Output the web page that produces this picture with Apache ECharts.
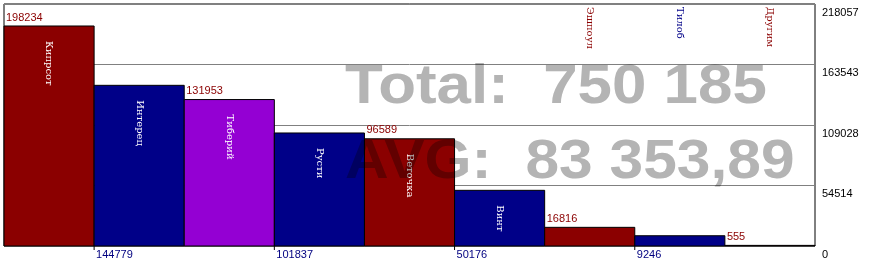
<!DOCTYPE html>
<html><head><meta charset="utf-8">
<script src="https://cdn.jsdelivr.net/npm/echarts@6/dist/echarts.min.js"></script>
<style>html,body{margin:0;padding:0;background:#fff}#c{width:876px;height:260px}
#c canvas[data-zr-dom-id="zr_1"]{mix-blend-mode:multiply}</style>
</head><body><div id="c"></div>
<script>
const categories = ['Кипрсот','Интерец','Тиберий','Русти','Веточка','Винт','Эшпоул','Тилоб','Другим'];
const values = [198234,144779,131953,101837,96589,50176,16816,9246,555];
const yTickLabels = ['0','54514','109028','163543','218057'];
const yMax = 218057;

const barColors = ['#8B0000','#000088','#9400D3','#000088','#8B0000','#000088','#8B0000','#000088','#8B0000'];
const total = values.reduce((a,b)=>a+b,0);
const avg = total / values.length;
function fmt(n, dec){
  const s = n.toFixed(dec).split('.');
  const int = s[0].replace(/\B(?=(\d{3})+(?!\d))/g,' ');
  return dec ? int + ',' + s[1] : int;
}

const chart = echarts.init(document.getElementById('c'), null, {renderer:'canvas'});
const serif = 'DejaVu Serif';
chart.setOption({
  animation:false,
  grid:{left:4, right:61, top:4, bottom:13, show:true, borderColor:'#000', borderWidth:1, backgroundColor:'transparent'},
  xAxis:{type:'category', data:categories, boundaryGap:true,
    axisLine:{show:false}, axisTick:{show:false}, axisLabel:{show:false}, splitLine:{show:false}},
  yAxis:{type:'value', position:'right', min:0, max:yMax, interval:yMax/4,
    axisLine:{show:false}, axisTick:{show:false},
    splitLine:{show:true, lineStyle:{color:'#808080', width:1}},
    axisLabel:{margin:7, color:'#000', fontFamily:'Arial', fontSize:11, verticalAlign:'top', padding:[3,0,0,0],
      formatter:(v, i)=> yTickLabels[i]}
  },
  series:[{
    type:'custom',
    data: values.map((v,i)=>[i,v]),
    renderItem(params, api){
      const i = api.value(0), v = api.value(1);
      const bw = api.size([1,0])[0];
      const top = api.coord([i, v]);
      const base = api.coord([i, 0]);
      const topPlot = api.coord([i, yMax])[1];
      const x0 = top[0] - bw/2;
      const h = base[1] - top[1];
      const children = [{
        type:'rect', shape:{x:x0, y:top[1], width:bw, height:h},
        style:{fill:barColors[i], stroke:'#000', lineWidth:1}
      }];
      const inside = h > 40;
      children.push({
        type:'text', x: top[0], y: inside ? top[1]+15 : topPlot+3, rotation:-Math.PI/2,
        style:{text:categories[i], fill: inside ? '#fff' : barColors[i], font:'10px "'+serif+'"',
          align:'left', verticalAlign:'middle'}
      });
      if (i % 2 === 0) {
        children.push({type:'text', x:x0+2, y:top[1]-3,
          style:{text:String(v), fill:'#8B0000', font:'11px Arial', align:'left', verticalAlign:'bottom'}});
      } else {
        children.push({type:'line', shape:{x1:x0, y1:base[1], x2:x0, y2:base[1]+4}, style:{stroke:'#000', lineWidth:1}});
        children.push({type:'text', x:x0+2, y:base[1]+3,
          style:{text:String(v), fill:'#000080', font:'11px Arial', align:'left', verticalAlign:'top'}});
      }
      return {type:'group', children};
    }
  }],
  graphic:[
    {type:'text', zlevel:1, z:100, left:345, top:60, scaleX:1.125,
      style:{text:'Total:  ' + fmt(total,0), fill:'#B4B4B4', font:'bold 55px "Liberation Sans"'}},
    {type:'text', zlevel:1, z:100, left:345, top:135, scaleX:1.1,
      style:{text:'AVG:  ' + fmt(avg,2), fill:'#B4B4B4', font:'bold 55px "Liberation Sans"'}}
  ]
});
</script></body></html>
